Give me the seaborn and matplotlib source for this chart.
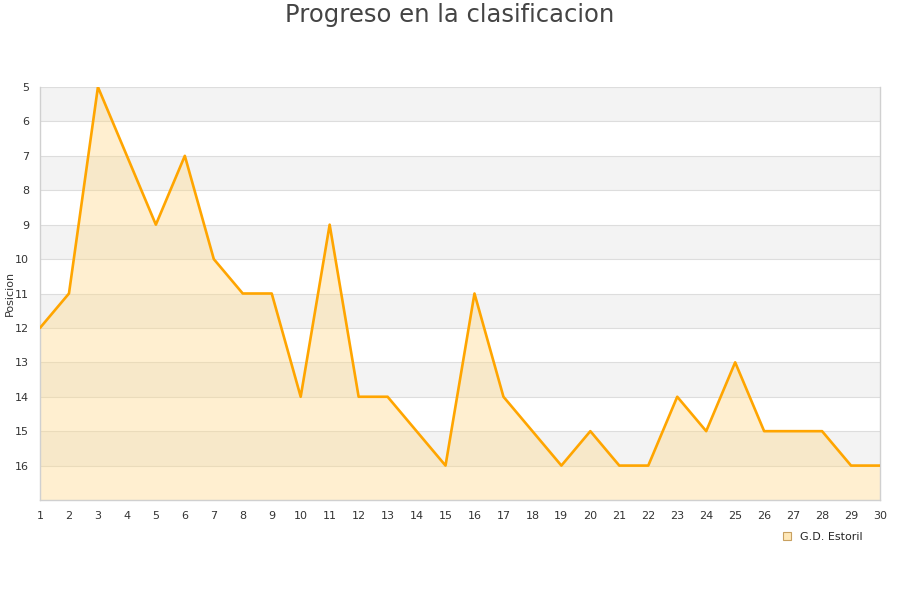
import matplotlib
matplotlib.use("Agg")
import matplotlib.pyplot as plt
import seaborn as sns
import pandas as pd
from matplotlib.lines import Line2D

jornadas = list(range(1, 31))
posiciones = [12, 11, 5, 7, 9, 7, 10, 11, 11, 14, 9, 14, 14, 15, 16,
              11, 14, 15, 16, 15, 16, 16, 14, 15, 13, 15, 15, 15, 16, 16]
equipo = "G.D. Estoril"
titulo = "Progreso en la clasificacion"
y_ticks = list(range(5, 17))

df = pd.DataFrame({"Jornada": jornadas, "Posicion": posiciones})

sns.set_theme(style="white")
plt.rcParams['font.family'] = ['DejaVu Sans']

fig = plt.figure(figsize=(9, 6), dpi=100)
ax = fig.add_axes([40/900, 1-500/600, 840/900, 413/600])

# alternating bands
for k in range(5, 17, 2):
    ax.axhspan(k, k+1, color="#f3f3f3", zorder=0, lw=0)
for k in range(5, 18):
    ax.axhline(k, color="#dddddd", lw=0.8, zorder=1)

ax.fill_between(df["Jornada"], df["Posicion"], 17, color="#ffd98a", alpha=0.4, lw=0, zorder=2)
sns.lineplot(data=df, x="Jornada", y="Posicion", ax=ax, color="#ffa500", lw=1.9, zorder=3)

ax.set_xlim(1, 30)
ax.set_ylim(17, 5)
ax.set_xticks(jornadas)
ax.set_yticks(y_ticks)
ax.tick_params(axis="both", length=0, labelsize=8, colors="#333333", pad=8)
ax.set_xlabel("")
ax.set_ylabel("Posicion", fontsize=8, color="#333333")
ax.yaxis.set_label_coords(-0.03, 0.5)
for s in ["left", "bottom", "right"]:
    ax.spines[s].set_color("#d0d0d0")
    ax.spines[s].set_linewidth(1)
ax.spines["top"].set_visible(False)

fig.text(0.5, 1-15/600, titulo, ha="center", va="center", fontsize=17.5, color="#444444")

handle = Line2D([], [], marker="s", ls="none", markersize=6,
                markerfacecolor="#ffe8b8", markeredgecolor="#c8a060", markeredgewidth=0.8)
fig.legend([handle], [equipo], loc="center", bbox_to_anchor=(822/900, 1-537/600),
           frameon=False, fontsize=8, handletextpad=0.6, handlelength=1)

fig.savefig("out.png", dpi=100)
